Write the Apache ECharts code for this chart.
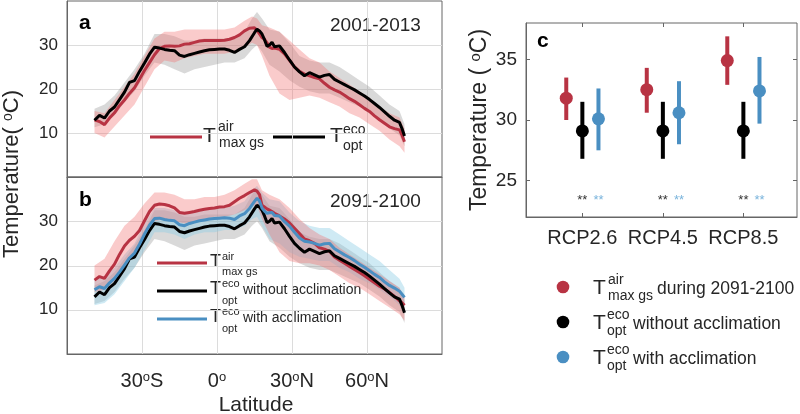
<!DOCTYPE html>
<html><head><meta charset="utf-8">
<script src="https://cdn.jsdelivr.net/npm/echarts@6/dist/echarts.min.js"></script>
<style>html,body{margin:0;padding:0;background:#fff}#c{width:800px;height:414px}</style>
</head><body><div id="c"></div>
<script>
// ---------------- data ----------------
const lat = [-49,-47,-45,-43,-41,-39,-37,-35,-33,-31,-29,-27,-25,-23,-21,-19,-17,-15,-13,-11,-9,-7,-5,-3,-1,1,3,5,7,9,11,13,15,
  16,17,18,19,20,21,22,23,
  25,27,29,31,33,35,37,39,41,43,45,47,49,51,53,55,57,59,61,63,65,67,69,71,73,74,75];
// T_opt^eco (present, = without acclimation)
const toptNow = [12.9,14.0,13.4,15.0,15.9,17.6,19.3,21.5,21.9,24.0,25.9,27.9,29.5,29.3,29.0,28.8,28.7,27.7,27.4,27.8,28.1,28.4,28.7,28.9,29.0,29.1,29.1,28.8,28.3,29.0,29.6,31.0,32.8,
  33.6,33.2,32.5,31.2,29.7,30.0,30.6,29.6,
  29.8,28.3,26.6,25.0,23.9,23.0,23.7,23.2,22.7,23.1,23.3,22.2,21.6,21.0,20.4,19.8,19.1,18.4,17.6,16.7,15.8,14.8,13.8,12.9,12.4,11.0,9.3];
// T_max gs^air 2001-2013
const tairNow = [13.0,12.6,11.9,13.4,14.6,16.2,17.5,19.0,20.3,22.2,24.2,26.0,27.8,29.2,29.7,29.8,29.7,29.8,30.2,30.3,30.6,30.9,31.0,31.0,31.0,31.0,31.1,31.3,31.7,32.3,33.2,33.8,33.9,
  33.4,32.5,31.7,31.3,30.5,29.5,29.2,29.3,
  29.0,28.0,26.5,25.0,24.0,23.4,23.0,22.6,22.3,21.3,20.4,19.8,19.3,18.6,17.8,17.2,16.4,15.6,14.9,13.9,13.0,12.2,11.4,11.0,10.7,9.5,8.0];
// T_max gs^air 2091-2100
const tairFuture = [16.7,17.5,17.1,18.8,20.3,22.5,24.4,25.7,26.6,27.9,30.1,32.2,33.6,33.9,33.8,33.5,33.0,32.0,31.8,32.0,32.2,32.5,32.7,32.9,33.0,33.2,33.3,33.6,34.4,35.2,35.8,36.5,37.1,
  36.8,36.0,33.6,33.2,32.8,32.5,32.2,31.8,
  31.2,30.5,29.6,28.4,27.2,26.0,25.6,25.0,24.0,23.7,23.2,21.9,21.2,20.5,19.8,19.1,18.4,17.7,16.9,16.1,15.3,14.7,13.9,13.0,12.0,11.6,11.0];
// T_opt^eco with acclimation 2091-2100
const toptAccl = [14.5,15.2,14.8,16.1,17.1,18.5,20.1,21.7,22.8,24.8,27.1,29.1,30.6,30.7,30.4,30.2,30.1,29.2,29.0,29.5,29.8,30.1,30.3,30.5,30.6,30.7,30.8,30.7,30.4,31.2,31.7,32.9,34.5,
  35.2,34.6,33.0,32.3,31.8,31.9,32.0,31.3,
  31.2,29.9,28.9,27.5,26.2,25.5,25.3,25.0,24.6,24.9,25.0,23.8,23.1,22.4,21.8,21.1,20.3,19.6,18.8,18.0,17.3,16.3,15.5,14.9,14.2,13.5,12.8];

// uncertainty bands
const bandLat = [-49,-45,-41,-37,-33,-29,-25,-21,-17,-13,-9,-5,-1,3,7,11,14,16,18,21,25,29,33,37,41,45,49,53,57,61,65,69,73,75];
const toptNowLo = [11.3,12,14,17,19.5,23,26,25.5,24.5,23.5,24.5,25,25.5,26,26,27,29,30,28.5,25.5,24,22,20.5,19.5,19,19,18,17,16,14.5,13,11,9.5,7];
const toptNowHi = [15.5,16.5,18.5,21.5,24.5,28,32.5,32.5,32,31,31,31.5,31.5,31.5,31.5,33,36,37.5,36,33.5,33,30.5,27.5,26.5,26,26,25,23.5,22,20.5,18.5,16.5,15,12];
const tairNowLo = [10,9,11.5,14,16.5,20.5,24.5,26.5,26,27,27.5,28,28,28,28.5,29.5,30.5,30,27.5,23,19,17.5,18,18.5,18,17,16,14.5,13.5,12,10.5,8.5,7,5.5];
const tairNowHi = [15,14.5,17.5,20.5,23.5,27.5,31.5,33,33,33.5,33.5,33.5,33.5,33.5,34,35.5,36.5,36,34.5,34,33,31,29,27,26,24,22.5,21,19.5,18,16,14.5,13.5,11];
const tairFutLo = [14,14.5,16.5,20,23,27,30,30.5,30,29.5,30,30.5,31,31,31.5,32.5,33.5,33.5,30.5,27,23,21,20.5,20.5,20,19,17.5,16,15,13.5,12,10.5,9,7.5];
const tairFutHi = [20,21.5,25.5,29,31,34,36.5,36.5,36,35,35,35.5,35.5,36,37,38.5,39.5,39.5,37,36,35,33,30.5,28.5,27,26,24,22.5,21,19.5,18,16.5,15,13];
const acclLo = [11,11.5,13.5,16.5,19.5,23.5,27.5,27.5,27,26,27,27.5,27.5,28,28,29,30.5,31,29,26,25,23,22,21.5,21,21,19.5,18.5,17,16,14.5,13,11,9];
const acclHi = [17,17.5,19.5,22.5,25,29.5,33,33,32.5,32,32,32.5,33,33,33.5,34.5,37,38,36.5,35,34.5,32,30,29,28.5,28.5,27,25.5,24,22.5,21,19,17,15];

// panel c
const scenarios = ['RCP2.6','RCP4.5','RCP8.5'];
const tairMean = [31.8,32.5,34.9];
const tairLo   = [30.0,30.6,32.9];
const tairHi   = [33.5,34.3,36.9];
const noAcclMean = [29.1,29.1,29.1];
const noAcclLo   = [26.8,26.8,26.8];
const noAcclHi   = [31.5,31.5,31.5];
const acclMean = [30.1,30.6,32.4];
const acclLoC  = [27.5,28.0,29.7];
const acclHiC  = [32.6,33.2,35.2];
const sigLevel = [23.4,23.4,23.4];

const latTicks = [-30,0,30,60];
const latTickNum = ['30','0','30','60'];
const latTickHemi = ['S','','N','N'];
const tempTicks = [10,20,30];

// ---------------- style ----------------
const FONT = '"Liberation Sans", Arial, Helvetica, sans-serif';
const TXT = '#262626';
const FRAME = '#666666';
const GRIDC = '#dcdcdc';
const RED = '#b83343', BLUE = '#4a8fc2', BLACK = '#000000';
const PINK = 'rgba(240,110,110,0.36)', GREY = 'rgba(150,150,150,0.36)', LBLUE = 'rgba(140,205,228,0.42)';
const OFF = [-0.2, 0, 0.2];

function gridLines(xi) {
  return {
    type: 'custom', xAxisIndex: xi, yAxisIndex: xi, silent: true, clip: true, z: 0,
    data: [[0, 20]],
    renderItem: function (params, api) {
      const kids = [];
      latTicks.forEach(v => {
        const a = api.coord([v, 0]), b = api.coord([v, 40]);
        kids.push({type: 'line', shape: {x1: Math.round(a[0]) + 0.5, y1: a[1], x2: Math.round(b[0]) + 0.5, y2: b[1]}, style: {stroke: GRIDC, lineWidth: 1}});
      });
      tempTicks.forEach(v => {
        const a = api.coord([-60, v]), b = api.coord([90, v]);
        kids.push({type: 'line', shape: {x1: a[0], y1: Math.round(a[1]) + 0.5, x2: b[0], y2: Math.round(b[1]) + 0.5}, style: {stroke: GRIDC, lineWidth: 1}});
      });
      return {type: 'group', children: kids};
    }
  };
}
function band(xi, lo, hi, color) {
  return {
    type: 'custom', xAxisIndex: xi, yAxisIndex: xi, silent: true, clip: true, z: 1,
    data: bandLat.map((x, i) => [x, lo[i], hi[i]]),
    encode: {x: 0, y: [1, 2]},
    renderItem: function (params, api) {
      if (params.dataIndex !== 0) return null;
      const pts = [];
      for (let i = 0; i < bandLat.length; i++) pts.push(api.coord([bandLat[i], hi[i]]));
      for (let i = bandLat.length - 1; i >= 0; i--) pts.push(api.coord([bandLat[i], lo[i]]));
      return {type: 'polygon', shape: {points: pts}, style: {fill: color}};
    }
  };
}
function line(xi, vals, color, z) {
  return {type: 'line', xAxisIndex: xi, yAxisIndex: xi, data: lat.map((x, i) => [x, vals[i]]),
    symbol: 'none', lineStyle: {color: color, width: 3}, z: z, silent: true, animation: false};
}
function errbar(off, lo, hi, color) {
  return {type: 'custom', xAxisIndex: 2, yAxisIndex: 2, silent: true, z: 3,
    data: scenarios.map((s, i) => [i + 1 + off, lo[i], hi[i]]),
    renderItem: function (params, api) {
      const a = api.coord([api.value(0), api.value(1)]);
      const b = api.coord([api.value(0), api.value(2)]);
      return {type: 'line', shape: {x1: a[0], y1: a[1], x2: b[0], y2: b[1]}, style: {stroke: color, lineWidth: 4}};
    }};
}
function dots(off, mean, color) {
  return {type: 'scatter', xAxisIndex: 2, yAxisIndex: 2, silent: true, z: 4, symbolSize: 13,
    itemStyle: {color: color, opacity: 1}, data: scenarios.map((s, i) => [i + 1 + off, mean[i]])};
}
function stars(off, color) {
  return {type: 'custom', xAxisIndex: 2, yAxisIndex: 2, silent: true, z: 4,
    data: scenarios.map((s, i) => [i + 1 + off, sigLevel[i]]),
    renderItem: function (params, api) {
      const p = api.coord([api.value(0), api.value(1)]);
      return {type: 'text', x: p[0], y: p[1], style: {text: '**', fill: color, font: '13px ' + FONT, align: 'center', verticalAlign: 'middle'}};
    }};
}

function txt(x, y, s, size, extra) {
  return {type: 'text', x: x, y: y, silent: true,
    style: Object.assign({text: s, fill: TXT, font: size + 'px ' + FONT, align: 'left', verticalAlign: 'middle'}, extra || {})};
}
function hline(x1, x2, y, color) {
  return {type: 'line', silent: true, shape: {x1: x1, y1: y, x2: x2, y2: y}, style: {stroke: color, lineWidth: 3}};
}
function dot(x, y, color) {
  return {type: 'circle', silent: true, shape: {cx: x, cy: y, r: 6.3}, style: {fill: color}};
}

const XMIN = -60, XMAX = 90;
const baseX = {type: 'value', min: XMIN, max: XMAX, interval: 30,
  axisLine: {show: true, onZero: false, lineStyle: {color: FRAME}},
  axisTick: {show: false},
  splitLine: {show: false}};
const baseY = {type: 'value', min: 0, max: 40, interval: 10,
  axisLine: {show: true, onZero: false, lineStyle: {color: FRAME}},
  axisTick: {show: false},
  splitLine: {show: false},
  axisLabel: {color: TXT, fontSize: 17, fontFamily: FONT, margin: 9,
    formatter: v => (v === 0 || v === 40) ? '' : String(v)}};

const option = {
  animation: false,
  backgroundColor: '#fff',
  grid: [
    {left: 67, top: 1, width: 375, height: 176, show: true, backgroundColor: 'transparent', borderColor: FRAME, borderWidth: 1},
    {left: 67, top: 177, width: 375, height: 177, show: true, backgroundColor: 'transparent', borderColor: FRAME, borderWidth: 1},
    {left: 526, top: 23, width: 271, height: 194, show: true, backgroundColor: 'transparent', borderColor: FRAME, borderWidth: 1}
  ],
  xAxis: [
    Object.assign({}, baseX, {gridIndex: 0, axisLabel: {show: false}}),
    Object.assign({}, baseX, {gridIndex: 1, axisLabel: {show: true, margin: 17,
      formatter: function (v) { const i = latTicks.indexOf(v); if (i < 0) return ''; return '{n|' + latTickNum[i] + '}{s|o}{n|' + latTickHemi[i] + '}'; },
      rich: {n: {fontSize: 20, fontFamily: FONT, color: TXT}, s: {fontSize: 13, fontFamily: FONT, color: TXT, verticalAlign: 'top'}}}}),
    {gridIndex: 2, type: 'value', min: 0.3, max: 3.666, splitLine: {show: false},
      axisLine: {show: true, onZero: false, lineStyle: {color: FRAME}},
      axisTick: {show: true, inside: true, length: 4, customValues: [1, 2, 3], lineStyle: {color: FRAME}},
      axisLabel: {show: true, customValues: [1, 2, 3], margin: 11, color: TXT, fontSize: 20, fontFamily: FONT,
        formatter: v => scenarios[Math.round(v) - 1]}},
    {gridIndex: 2, type: 'value', position: 'top', min: 0.3, max: 3.666, splitLine: {show: false},
      axisLine: {show: false}, axisLabel: {show: false},
      axisTick: {show: true, inside: true, length: 4, customValues: [1, 2, 3], lineStyle: {color: FRAME}}}
  ],
  yAxis: [
    Object.assign({}, baseY, {gridIndex: 0}),
    Object.assign({}, baseY, {gridIndex: 1}),
    {gridIndex: 2, type: 'value', min: 22, max: 38, splitLine: {show: false},
      axisLine: {show: true, onZero: false, lineStyle: {color: FRAME}},
      axisTick: {show: true, inside: true, length: 4, customValues: [25, 30, 35], lineStyle: {color: FRAME}},
      axisLabel: {show: true, customValues: [25, 30, 35], margin: 9, color: TXT, fontSize: 19, fontFamily: FONT}},
    {gridIndex: 2, type: 'value', position: 'right', min: 22, max: 38, splitLine: {show: false},
      axisLine: {show: false, onZero: false}, axisLabel: {show: false},
      axisTick: {show: true, inside: true, length: 4, customValues: [25, 30, 35], lineStyle: {color: FRAME}}}
  ],
  series: [
    gridLines(0),
    band(0, toptNowLo, toptNowHi, GREY),
    band(0, tairNowLo, tairNowHi, PINK),
    line(0, tairNow, RED, 5),
    line(0, toptNow, BLACK, 6),
    gridLines(1),
    band(1, toptNowLo, toptNowHi, GREY),
    band(1, acclLo, acclHi, LBLUE),
    band(1, tairFutLo, tairFutHi, PINK),
    line(1, tairFuture, RED, 5),
    line(1, toptNow, BLACK, 6),
    line(1, toptAccl, BLUE, 7),
    errbar(OFF[0], tairLo, tairHi, RED),
    errbar(OFF[1], noAcclLo, noAcclHi, BLACK),
    errbar(OFF[2], acclLoC, acclHiC, BLUE),
    dots(OFF[0], tairMean, RED),
    dots(OFF[1], noAcclMean, BLACK),
    dots(OFF[2], acclMean, BLUE),
    stars(0, '#333333'),
    stars(0.2, '#7ab4dc')
  ],
  graphic: [
    // y titles
    {type: 'text', x: 12, y: 174, rotation: Math.PI / 2, silent: true,
      style: {text: '{a|Temperature( }{b|o}{a|C)}', align: 'center', verticalAlign: 'middle',
        rich: {a: {fontSize: 22, fontFamily: FONT, fill: TXT}, b: {fontSize: 14, fontFamily: FONT, fill: TXT, verticalAlign: 'top'}}}},
    {type: 'text', x: 480, y: 120, rotation: Math.PI / 2, silent: true,
      style: {text: '{a|Temperature ( }{b|o}{a|C)}', align: 'center', verticalAlign: 'middle',
        rich: {a: {fontSize: 23, fontFamily: FONT, fill: TXT}, b: {fontSize: 15, fontFamily: FONT, fill: TXT, verticalAlign: 'top'}}}},
    txt(256, 405, 'Latitude', 21, {align: 'center'}),
    // panel labels
    txt(79, 23.5, 'a', 21, {font: 'bold 21px ' + FONT, fill: '#000'}),
    txt(79, 200, 'b', 21, {font: 'bold 21px ' + FONT, fill: '#000'}),
    txt(537, 41.5, 'c', 21, {font: 'bold 21px ' + FONT, fill: '#000'}),
    txt(330, 26, '2001-2013', 19),
    txt(330, 202, '2091-2100', 19),
    // legend a
    hline(150, 202, 137, RED),
    txt(203, 136, 'T', 21), txt(218, 127.5, 'air', 14), txt(219, 143.5, 'max gs', 14),
    hline(273, 325, 137, BLACK),
    txt(330, 136, 'T', 21), txt(343, 130, 'eco', 14), txt(343, 146, 'opt', 14),
    // legend b
    hline(157, 207, 263, RED),
    txt(210, 262, 'T', 18), txt(222, 256.5, 'air', 11), txt(222, 271.5, 'max gs', 11),
    hline(157, 207, 291, BLACK),
    txt(210, 289.5, 'T', 18), txt(222, 283.5, 'eco', 11), txt(222, 300.5, 'opt', 11), txt(243, 290.5, 'without acclimation', 14),
    hline(157, 207, 319, BLUE),
    txt(210, 317.5, 'T', 18), txt(222, 311.5, 'eco', 11), txt(222, 328.5, 'opt', 11), txt(243, 318.5, 'with acclimation', 14),
    // legend c
    dot(563, 287, RED),
    txt(593, 288, 'T', 21), txt(608, 280.5, 'air', 14), txt(608, 296, 'max gs', 14), txt(657, 289.5, 'during 2091-2100', 17.5),
    dot(563, 322, BLACK),
    txt(593, 323, 'T', 21), txt(607, 315.5, 'eco', 14), txt(607, 331, 'opt', 14), txt(633, 324, 'without acclimation', 17.5),
    dot(563, 357, BLUE),
    txt(593, 358, 'T', 21), txt(607, 350.5, 'eco', 14), txt(607, 366, 'opt', 14), txt(633, 359, 'with acclimation', 17.5)
  ]
};
const chart = echarts.init(document.getElementById('c'), null, {renderer: 'canvas'});
chart.setOption(option);
</script></body></html>
